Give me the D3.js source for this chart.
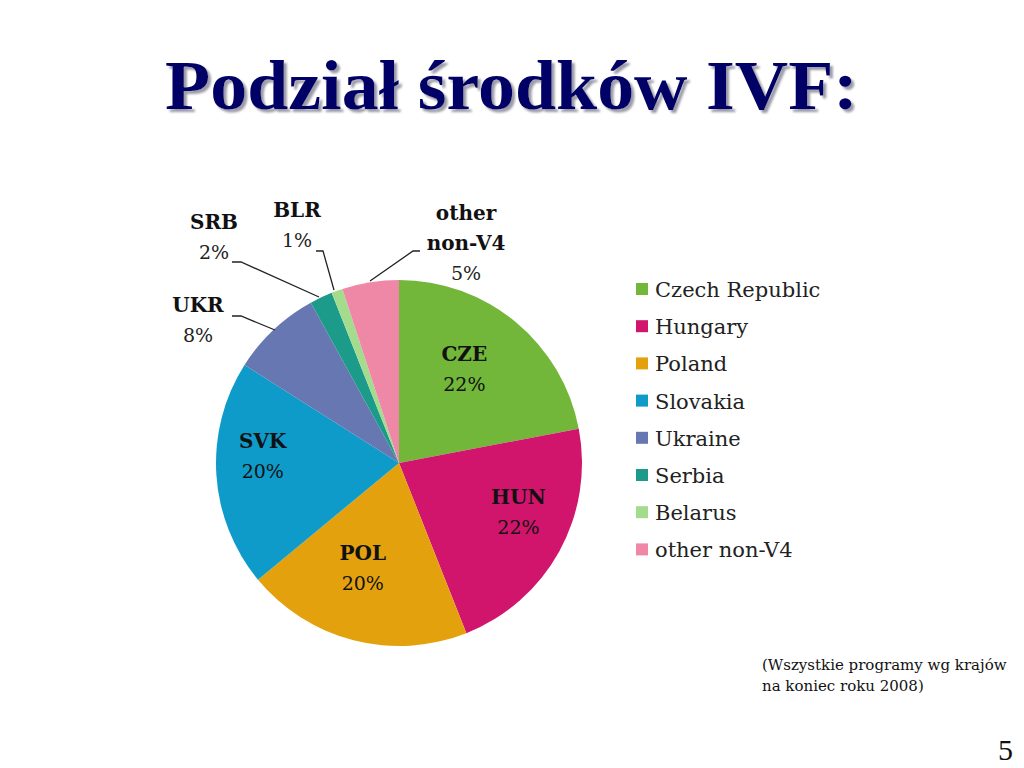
<!DOCTYPE html>
<html><head><meta charset="utf-8">
<script src="https://cdn.jsdelivr.net/npm/d3@7"></script>
<style>body{margin:0;background:#fff}svg{display:block}</style>
</head><body>
<svg id="c" width="1024" height="768"></svg>
<script>
const categories = ["Czech Republic","Hungary","Poland","Slovakia","Ukraine","Serbia","Belarus","other non-V4"];
const shortNames = ["CZE","HUN","POL","SVK","UKR","SRB","BLR","other\nnon-V4"];
const values = [22,22,20,20,8,2,1,5];
const colors = ["#72b63a","#d1156c","#e3a20d","#0e9bc9","#6677b1","#1c9b8b","#a4dc8e","#ef88a7"];

const svg = d3.select("#c");
const serif = "'DejaVu Serif','Liberation Serif',serif";

// Title with drop shadow filter
const defs = svg.append("defs");
const f = defs.append("filter").attr("id","sh").attr("x","-5%").attr("y","-20%").attr("width","110%").attr("height","140%");
f.append("feDropShadow").attr("dx",3).attr("dy",3).attr("stdDeviation",0.8)
  .attr("flood-color","#9090a0").attr("flood-opacity",0.9);
svg.append("text").attr("x",165).attr("y",109)
  .attr("font-family","'Liberation Serif',serif").attr("font-weight","bold")
  .attr("font-size",70).attr("fill","#000066").attr("filter","url(#sh)")
  .attr("textLength",693).attr("lengthAdjust","spacingAndGlyphs")
  .text("Podział środków IVF:");

const cx=399, cy=463, R=183;
const pie = d3.pie().sort(null).value(d=>d)(values);
const arc = d3.arc().innerRadius(0).outerRadius(R);
const g = svg.append("g").attr("transform",`translate(${cx},${cy})`);
g.selectAll("path").data(pie).enter().append("path")
  .attr("d",arc).attr("fill",(d,i)=>colors[i]);

// inside labels
const inner = d3.arc().innerRadius(R*0.62).outerRadius(R*0.62);
const insideIdx=[0,1,2,3];
const insideOffsets = [[-7,-7],[20,-6],[-8,-5],[-23,-14]];
insideIdx.forEach((i,k)=>{
  const [x,y]=inner.centroid(pie[i]);
  const lx = cx+x+insideOffsets[k][0], ly = cy+y+insideOffsets[k][1];
  svg.append("text").attr("x",lx).attr("y",ly-8).attr("text-anchor","middle")
    .attr("font-family",serif).attr("font-weight","bold").attr("font-size",20).attr("fill","#111").text(shortNames[i]);
  svg.append("text").attr("x",lx).attr("y",ly+22).attr("text-anchor","middle")
    .attr("font-family",serif).attr("font-size",19).attr("fill","#111").text(values[i]+"%");
});

// outside labels with leader lines
const outside = [
  {i:4, x:198, y:312, line:[[232,316],[241,316],[275,330]]},
  {i:5, x:214, y:229, line:[[232,262],[241,262],[319,297]]},
  {i:6, x:297, y:217, line:[[316,251],[323,251],[334,290]]},
  {i:7, x:466, y:220, line:[[420,251],[413,251],[370,281]]}
];
outside.forEach(o=>{
  const parts = shortNames[o.i].split("\n");
  parts.forEach((p,j)=>{
    svg.append("text").attr("x",o.x).attr("y",o.y+j*30).attr("text-anchor","middle")
      .attr("font-family",serif).attr("font-weight","bold").attr("font-size",20).attr("fill","#111").text(p);
  });
  svg.append("text").attr("x",o.x).attr("y",o.y+parts.length*30).attr("text-anchor","middle")
    .attr("font-family",serif).attr("font-size",19).attr("fill","#222").text(values[o.i]+"%");
  svg.append("path").attr("d",d3.line()(o.line)).attr("fill","none").attr("stroke","#222").attr("stroke-width",1.3);
});

// legend
const leg = svg.append("g").attr("transform","translate(636,281)");
categories.forEach((c,i)=>{
  const y=i*37.2;
  leg.append("rect").attr("x",0).attr("y",y+2).attr("width",12).attr("height",12).attr("fill",colors[i]);
  leg.append("text").attr("x",19).attr("y",y+16).attr("font-family",serif).attr("font-size",21)
    .attr("fill","#222").text(c);
});

// footnote
svg.append("text").attr("x",762).attr("y",670).attr("font-family",serif).attr("font-size",15).attr("fill","#111")
  .text("(Wszystkie programy wg krajów");
svg.append("text").attr("x",762).attr("y",691).attr("font-family",serif).attr("font-size",15).attr("fill","#111")
  .text("na koniec roku 2008)");
svg.append("text").attr("x",1013).attr("y",760).attr("text-anchor","end").attr("font-family","'Liberation Serif',serif").attr("font-size",30).attr("fill","#111")
  .text("5");
</script>
</body></html>
